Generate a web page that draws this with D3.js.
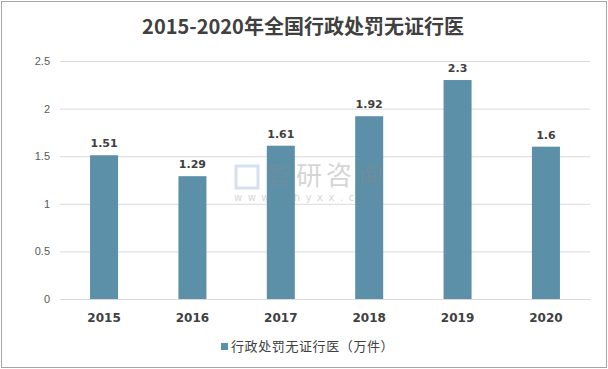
<!DOCTYPE html>
<html><head><meta charset="utf-8">
<script src="https://cdn.jsdelivr.net/npm/d3@7"></script>
<style>body{margin:0;background:#fff}svg{display:block}</style>
</head><body>
<svg id="c" width="608" height="369"></svg>
<script>
const categories = ["2015","2016","2017","2018","2019","2020"];
const values = [1.51, 1.29, 1.61, 1.92, 2.3, 1.6];
const yTicks = [0, 0.5, 1, 1.5, 2, 2.5];
const seriesName = "行政处罚无证行医（万件）";
const title = "2015-2020年全国行政处罚无证行医";

const svg = d3.select("#c");
const W = 608, H = 369;
const m = {l: 60, r: 18, t: 61, b: 70};
const color = "#5b90a8";
const font = "'Noto Sans CJK SC','Noto Sans',sans-serif";

svg.append("rect").attr("x",1.5).attr("y",1.5).attr("width",W-3).attr("height",H-3)
  .attr("fill","#fff").attr("stroke","#a6a6a6").attr("stroke-width",1);

const x = d3.scaleBand().domain(categories).range([m.l, W - m.r]).paddingInner(0.683).paddingOuter(0.34);
const y = d3.scaleLinear().domain([0, 2.5]).range([299, 61]);

// gridlines
const grid = svg.append("g").attr("transform",`translate(${m.l},0)`)
  .call(d3.axisLeft(y).tickValues(yTicks).tickSize(-(W - m.r - m.l)).tickFormat(""));
grid.select(".domain").remove();
grid.selectAll(".tick line").attr("stroke","#d9d9d9");

// y labels
const ya = svg.append("g").attr("transform",`translate(${m.l},0)`)
  .call(d3.axisLeft(y).tickValues(yTicks).tickSize(0).tickPadding(10).tickFormat(d3.format("")));
ya.select(".domain").remove();
ya.selectAll("text").attr("fill","#595959").style("font-size","11px").style("font-family","'Liberation Sans',Arial,sans-serif");

// bars
svg.append("g").selectAll("rect").data(values).join("rect")
  .attr("x",(d,i)=>x(categories[i])).attr("width",x.bandwidth())
  .attr("y",d=>y(d)).attr("height",d=>y(0)-y(d)).attr("fill",color);

// data labels
svg.append("g").selectAll("text").data(values).join("text")
  .attr("x",(d,i)=>x(categories[i])+x.bandwidth()/2).attr("y",d=>y(d)-8)
  .attr("text-anchor","middle").attr("fill","#404040")
  .style("font-size","11px").style("font-weight","bold").style("font-family","'DejaVu Sans',sans-serif")
  .text(d=>d);

// x axis
const xa = svg.append("g").attr("transform",`translate(0,${y(0)})`)
  .call(d3.axisBottom(x).tickSize(0).tickPadding(14));
xa.select(".domain").attr("stroke","#d9d9d9");
xa.selectAll("text").attr("fill","#404040").style("font-size","12px").style("font-weight","bold")
  .style("font-family","'DejaVu Sans',sans-serif");

// title
svg.append("text").attr("x",W/2 - 1).attr("y",34).attr("text-anchor","middle")
  .attr("fill","#404040").style("font-size","20px").style("font-weight","bold").style("font-family",font)
  .text(title);

// legend
svg.append("rect").attr("x",221).attr("y",343).attr("width",7).attr("height",7).attr("fill",color);
svg.append("text").attr("x",231).attr("y",351).attr("fill","#404040")
  .style("font-size","13px").style("font-family",font).style("letter-spacing","0.6px").text(seriesName);

// watermark
const wm = svg.append("g").attr("opacity",0.35);
wm.append("text").attr("x",266).attr("y",185).attr("fill","#8a8a8a")
  .style("font-size","26px").style("font-family",font).style("letter-spacing","4px").text("智研咨询");
wm.append("text").attr("x",234).attr("y",201).attr("fill","#8a8a8a")
  .style("font-size","10px").style("font-family","'DejaVu Sans',sans-serif").style("letter-spacing","5.5px").text("www.chyxx.com");
wm.append("rect").attr("x",236).attr("y",166).attr("width",22).attr("height",22).attr("fill","none")
  .attr("stroke","#8fa8d0").attr("stroke-width",3);
</script>
</body></html>
